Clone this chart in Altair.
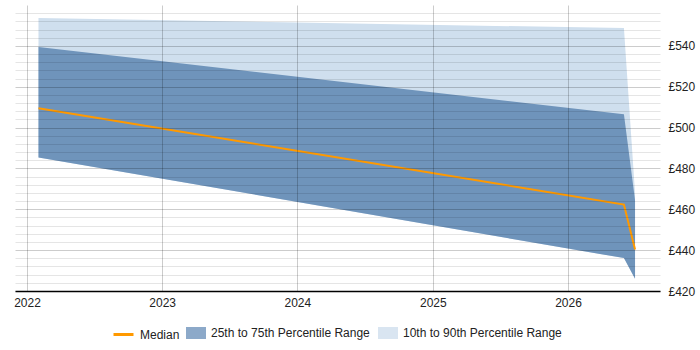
import altair as alt
import pandas as pd

# Percentile series (GBP per day) sampled at the observation dates
dates = ["2022-02-01", "2026-06-01", "2026-07-01"]
p10 = [485.4, 436.1, 426.0]
p25 = [485.4, 436.1, 426.0]
median = [509.5, 462.3, 440.3]
p75 = [539.4, 506.5, 464.4]
p90 = [553.6, 548.7, 468.0]

year_ticks = [2022, 2023, 2024, 2025, 2026]
y_grid_values = list(range(420, 557, 4))

MEDIAN_LABEL = "Median"
IQR_LABEL = "25th to 75th Percentile Range"
DECILE_LABEL = "10th to 90th Percentile Range"

df = pd.DataFrame({"date": dates, "p10": p10, "p25": p25,
                   "median": median, "p75": p75, "p90": p90})

FONT = "Liberation Sans"

x_scale = alt.Scale(domain=[alt.DateTime(year=2021, month=11, date=29, hours=14),
                            alt.DateTime(year=2026, month=9, date=6, hours=10)])
y_scale = alt.Scale(domain=[420, 560], nice=False, zero=False)

x_axis = alt.Axis(
    values=[alt.DateTime(year=y, month=1, date=1) for y in year_ticks],
    tickCount=len(year_ticks) + 1,
    format="%Y", title=None, ticks=False, labelPadding=6,
    domainColor="#000", domainWidth=1.5,
    gridColor="#000", gridOpacity=0.2, zindex=1,
    labelFont=FONT, labelFontSize=12, labelColor="#222",
)
y_axis = alt.Axis(
    orient="right", values=y_grid_values, tickCount=len(y_grid_values) + 1,
    title=None, ticks=False,
    domain=False, labelPadding=8, labelOverlap=False,
    labelExpr="datum.value % 20 === 0 ? '£' + datum.value : ''",
    gridColor="#000",
    gridOpacity={"condition": {"test": "datum.value % 20 === 0", "value": 0.2},
                 "value": 0.1},
    zindex=1,
    labelFont=FONT, labelFontSize=12, labelColor="#222",
)

fill_scale = alt.Scale(domain=[IQR_LABEL, DECILE_LABEL],
                       range=["#6f94bb", "#cfdfee"])
stroke_scale = alt.Scale(domain=[MEDIAN_LABEL], range=["#ff9900"])

base = alt.Chart(df)

decile_band = base.transform_calculate(
    band=f"'{DECILE_LABEL}'"
).mark_area().encode(
    x=alt.X("date:T", scale=x_scale, axis=x_axis),
    y=alt.Y("p10:Q", scale=y_scale, axis=y_axis),
    y2="p90:Q",
    fill=alt.Fill("band:N", scale=fill_scale,
                  legend=alt.Legend(
                      orient="none", legendX=171, legendY=318,
                      direction="horizontal", title=None,
                      symbolType="M-1,-0.6H1V0.6H-1Z", symbolSize=400,
                      symbolOpacity=0.8, symbolStrokeWidth=0,
                      labelOffset=5, columnPadding=8, padding=0,
                      labelFont=FONT, labelFontSize=12, labelColor="#222")),
)

iqr_band = base.transform_calculate(
    band=f"'{IQR_LABEL}'"
).mark_area().encode(
    x="date:T",
    y="p25:Q",
    y2="p75:Q",
    fill=alt.Fill("band:N"),
)

median_line = base.transform_calculate(
    series=f"'{MEDIAN_LABEL}'"
).mark_line(strokeWidth=2).encode(
    x="date:T",
    y="median:Q",
    stroke=alt.Stroke("series:N", scale=stroke_scale,
                      legend=alt.Legend(
                          orient="none", legendX=97, legendY=318,
                          direction="horizontal", title=None,
                          symbolType="stroke", symbolSize=400,
                          symbolStrokeWidth=3, labelOffset=5, padding=0,
                          labelFont=FONT, labelFontSize=12, labelColor="#222")),
)

chart = alt.layer(decile_band, iqr_band, median_line).properties(
    width=645, height=286,
    autosize=alt.AutoSizeParams(type="none"),
    padding={"left": 15, "top": 5, "right": 40, "bottom": 59},
    background="white",
).configure_view(stroke=None)

chart.save("out.html", embed_options={"renderer": "svg", "actions": False})
